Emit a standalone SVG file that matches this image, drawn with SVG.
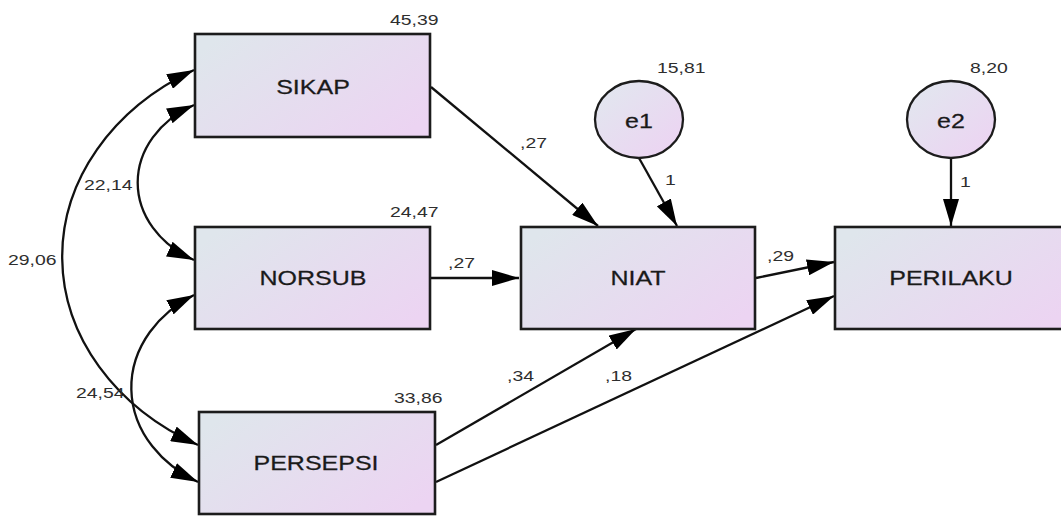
<svg xmlns="http://www.w3.org/2000/svg" width="1061" height="516" viewBox="0 0 1061 516">
<style>
.box{stroke:#1c1c1c;stroke-width:2.6;fill:url(#g)}
.ell{stroke:#1c1c1c;stroke-width:2.3;fill:url(#g2)}
.ln{fill:none;stroke:#111;stroke-width:2.3}
.nm{font-family:"Liberation Sans",Arial,sans-serif;font-size:20px;fill:#1a1a1a;text-anchor:middle;stroke:#1a1a1a;stroke-width:0.25}
.lb{font-family:"Liberation Sans",Arial,sans-serif;font-size:15.5px;fill:#2e2e2e}
</style>
<defs>
<linearGradient id="g" x1="0" y1="0.2" x2="1" y2="0.8">
<stop offset="0" stop-color="#dfe6ec"/>
<stop offset="1" stop-color="#ecd4f2"/>
</linearGradient>
<linearGradient id="g2" x1="0.1" y1="0.1" x2="0.9" y2="0.9">
<stop offset="0" stop-color="#e2e6ef"/>
<stop offset="1" stop-color="#ecd4f2"/>
</linearGradient>
<marker id="ah" viewBox="0 0 27 16" refX="27" refY="8" markerWidth="27" markerHeight="16" markerUnits="userSpaceOnUse" orient="auto-start-reverse">
<path d="M0,0 L27,8 L0,16 z" fill="#000"/>
</marker>
</defs>

<g id="connectors">
<path class="ln" d="M431,87 L598,226" marker-end="url(#ah)"/>
<path class="ln" d="M431,278 L519,278" marker-end="url(#ah)"/>
<path class="ln" d="M436,445 L636,329" marker-end="url(#ah)"/>
<path class="ln" d="M436,482 L834,296" marker-end="url(#ah)"/>
<path class="ln" d="M756,278 L834,262" marker-end="url(#ah)"/>
<path class="ln" d="M639,158 L677,226" marker-end="url(#ah)"/>
<path class="ln" d="M951,158 L951,226" marker-end="url(#ah)"/>
<path class="ln" d="M194,105 A107,88 0 0 0 194,260" marker-start="url(#ah)" marker-end="url(#ah)"/>
<path class="ln" d="M194,70 A262,215 0 0 0 198,445" marker-start="url(#ah)" marker-end="url(#ah)"/>
<path class="ln" d="M194,295 A133,109 0 0 0 198,482" marker-start="url(#ah)" marker-end="url(#ah)"/>
<text class="lb" transform="translate(520,148) scale(1.25,1)">,27</text>
<text class="lb" transform="translate(448,268) scale(1.25,1)">,27</text>
<text class="lb" transform="translate(767,261) scale(1.25,1)">,29</text>
<text class="lb" transform="translate(507,381) scale(1.25,1)">,34</text>
<text class="lb" transform="translate(605,381) scale(1.25,1)">,18</text>
<text class="lb" transform="translate(665,185) scale(1.25,1)">1</text>
<text class="lb" transform="translate(960,187) scale(1.25,1)">1</text>
<text class="lb" transform="translate(84,190) scale(1.25,1)">22,14</text>
<text class="lb" transform="translate(8,265) scale(1.25,1)">29,06</text>
<text class="lb" transform="translate(76,398) scale(1.25,1)">24,54</text>
</g>

<g id="SIKAP">
<rect class="box" x="195" y="34" width="235" height="103"/>
<text class="nm" transform="translate(313,94) scale(1.25,1)">SIKAP</text>
<text class="lb" transform="translate(390,25) scale(1.25,1)">45,39</text>
</g>
<g id="NORSUB">
<rect class="box" x="195" y="227" width="235" height="102"/>
<text class="nm" transform="translate(313,285) scale(1.25,1)">NORSUB</text>
<text class="lb" transform="translate(390,217) scale(1.25,1)">24,47</text>
</g>
<g id="PERSEPSI">
<rect class="box" x="199" y="412" width="236" height="102"/>
<text class="nm" transform="translate(316,470) scale(1.25,1)">PERSEPSI</text>
<text class="lb" transform="translate(394,403) scale(1.25,1)">33,86</text>
</g>
<g id="NIAT">
<rect class="box" x="521" y="227" width="234" height="102"/>
<text class="nm" transform="translate(638,285) scale(1.25,1)">NIAT</text>
</g>
<g id="PERILAKU">
<rect class="box" x="835" y="227" width="234" height="102"/>
<text class="nm" transform="translate(951,285) scale(1.25,1)">PERILAKU</text>
</g>
<g id="e1">
<ellipse class="ell" cx="639" cy="119.5" rx="44" ry="38.5"/>
<text class="nm" transform="translate(639,128) scale(1.25,1)">e1</text>
<text class="lb" transform="translate(657,73) scale(1.25,1)">15,81</text>
</g>
<g id="e2">
<ellipse class="ell" cx="951" cy="119.5" rx="44" ry="38.5"/>
<text class="nm" transform="translate(951,128) scale(1.25,1)">e2</text>
<text class="lb" transform="translate(970,73) scale(1.25,1)">8,20</text>
</g>
</svg>
